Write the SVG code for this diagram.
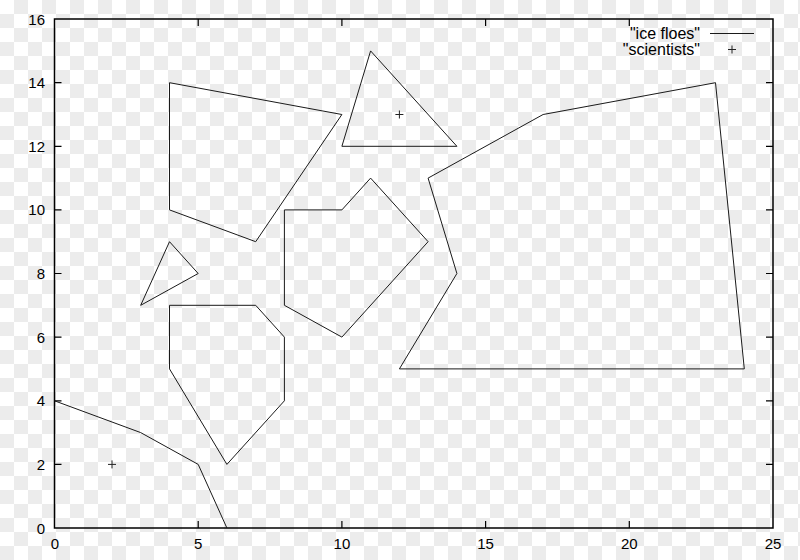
<svg xmlns="http://www.w3.org/2000/svg" width="800" height="560" viewBox="0 0 800 560">
<defs>
<pattern id="checker" x="0" y="0" width="28" height="28" patternUnits="userSpaceOnUse">
<rect width="28" height="28" fill="#ffffff"/>
<rect x="14" y="0" width="14" height="14" fill="#ececec"/>
<rect x="0" y="14" width="14" height="14" fill="#ececec"/>
</pattern>
</defs>
<style>
.floe{fill:none;stroke:#1a1a1a;stroke-width:1;stroke-linejoin:miter}
.border{fill:none;stroke:#000;stroke-width:1.5}
.tick{stroke:#000;stroke-width:1.2}
.sci{stroke:#222;stroke-width:1}
text{font-family:"Liberation Sans",Arial,Helvetica,sans-serif;font-size:15px;fill:#000}
.yl{text-anchor:end}
.xl{text-anchor:middle}
.lg{text-anchor:end;font-size:16px}
</style>
<rect width="800" height="560" fill="url(#checker)"/>

<g id="axes">
<rect class="border" x="54.5" y="19" width="718.5" height="509"/>
<g id="ticks">
<path class="tick" d="M54.5 464.4h7M54.5 400.8h7M54.5 337.1h7M54.5 273.5h7M54.5 209.9h7M54.5 146.3h7M54.5 82.7h7
M773 464.4h-7M773 400.8h-7M773 337.1h-7M773 273.5h-7M773 209.9h-7M773 146.3h-7M773 82.7h-7
M198.2 528v-7M341.9 528v-7M485.6 528v-7M629.3 528v-7
M198.2 19v7M341.9 19v7M485.6 19v7M629.3 19v7"/>
</g>
<g id="ylabels">
<text class="yl" x="45" y="533.5">0</text>
<text class="yl" x="45" y="469.9">2</text>
<text class="yl" x="45" y="406.3">4</text>
<text class="yl" x="45" y="342.6">6</text>
<text class="yl" x="45" y="279">8</text>
<text class="yl" x="45" y="215.4">10</text>
<text class="yl" x="45" y="151.8">12</text>
<text class="yl" x="45" y="88.2">14</text>
<text class="yl" x="45" y="24.5">16</text>
</g>
<g id="xlabels">
<text class="xl" x="55" y="549">0</text>
<text class="xl" x="198.2" y="549">5</text>
<text class="xl" x="341.9" y="549">10</text>
<text class="xl" x="485.6" y="549">15</text>
<text class="xl" x="629.3" y="549">20</text>
<text class="xl" x="773" y="549">25</text>
</g>
</g>

<g id="floes">
<g id="floe1"><polyline class="floe" points="54.5,400.8 140.7,432.6 198.2,464.4 226.9,528"/></g>
<g id="floe2"><polygon class="floe" points="140.7,305.3 169.5,241.7 198.2,273.5"/></g>
<g id="floe3"><polygon class="floe" points="169.5,82.7 341.9,114.5 255.7,241.7 169.5,209.9"/></g>
<g id="floe4"><polygon class="floe" points="169.5,305.3 255.7,305.3 284.4,337.1 284.4,400.8 226.9,464.4 169.5,368.9"/></g>
<g id="floe5"><polygon class="floe" points="284.4,209.9 341.9,209.9 370.6,178.1 428.1,241.7 341.9,337.1 284.4,305.3"/></g>
<g id="floe6"><polygon class="floe" points="341.9,146.3 370.6,50.9 456.9,146.3"/></g>
<g id="floe7"><polygon class="floe" points="428.1,178.1 543.1,114.5 715.5,82.7 744.3,368.9 399.4,368.9 456.9,273.5"/></g>
</g>

<g id="scientists">
<path class="sci" d="M395.4 114.5h8M399.4 110.5v8"/>
<path class="sci" d="M108 464.4h8M112 460.4v8"/>
</g>

<g id="legend">
<text class="lg" x="700" y="38.5">"ice floes"</text>
<line class="floe" x1="710" y1="33.5" x2="754" y2="33.5"/>
<text class="lg" x="700" y="54.5">"scientists"</text>
<path class="sci" d="M728 49.5h8M732 45.5v8"/>
</g>
</svg>
